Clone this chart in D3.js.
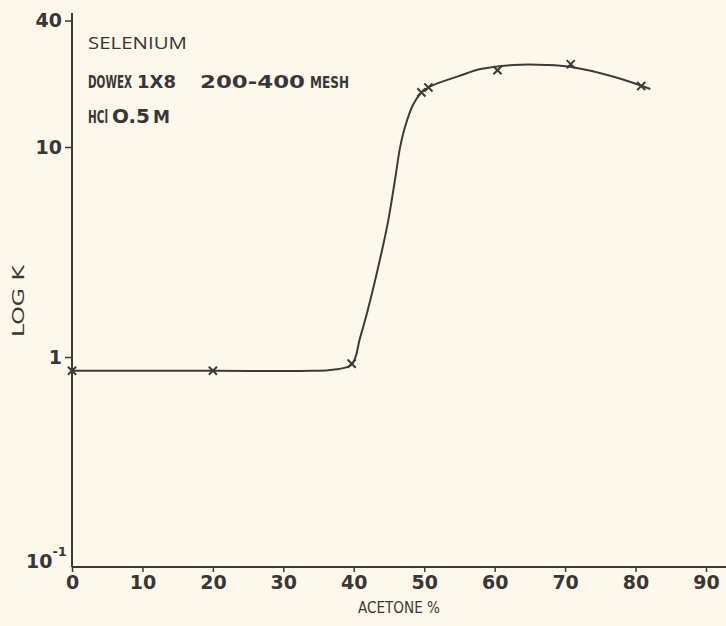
<!DOCTYPE html>
<html>
<head>
<meta charset="utf-8">
<script src="https://cdn.jsdelivr.net/npm/d3@7"></script>
<style>
  html, body { margin: 0; padding: 0; background: #fcf8eb; }
  svg { display: block; }
  .num { font-family: "DejaVu Sans", sans-serif; font-weight: 700; fill: #3b3636; }
  .cond { font-family: "DejaVu Sans Condensed", "DejaVu Sans", sans-serif; fill: #3b3636; }
  .plain { font-family: "Open Sans", "DejaVu Sans", sans-serif; fill: #3b3636; }
</style>
</head>
<body>
<svg id="chart" width="726" height="626"></svg>
<script>
// Measured distribution coefficients of selenium vs. acetone content
const acetone = [0, 20, 39.7, 49.6, 50.6, 60.4, 70.8, 80.8];
const logK = [0.86, 0.86, 0.93, 18.2, 19.2, 23.2, 24.8, 19.5];

// Hand-drawn smooth curve through the measurements
const curveAcetone = [0, 20, 34, 37, 39.7, 40.88, 41.88, 42.87, 43.86, 44.86, 45.85, 46.56, 47.27, 48.4, 49.54, 50.82, 55, 58, 62.7, 67.4, 70.7, 76.9, 82.1];
const curveK = [0.86, 0.86, 0.86, 0.87, 0.92, 1.23, 1.62, 2.2, 3.06, 4.4, 6.97, 9.9, 12.45, 15.85, 18.07, 19.4, 21.8, 23.5, 24.6, 24.6, 24.1, 21.6, 18.9];

// Axis ticks
const xTicks = [0, 10, 20, 30, 40, 50, 60, 70, 80, 90];
const yTicks = [40, 10, 1];

const svg = d3.select("#chart");
const ink = "#3f3a3a";

const x = d3.scaleLinear().domain([0, 90]).range([72, 706]);
const y = d3.scaleLog().domain([0.1, 10]).range([567, 147]);

// Axis lines
svg.append("line").attr("x1", x(0)).attr("x2", 726).attr("y1", y(0.1)).attr("y2", y(0.1))
  .attr("stroke", ink).attr("stroke-width", 2);
svg.append("line").attr("x1", x(0)).attr("x2", x(0)).attr("y1", 13).attr("y2", y(0.1))
  .attr("stroke", ink).attr("stroke-width", 2);

// X axis ticks and labels
const xAxis = d3.axisBottom(x).tickValues(xTicks).tickSize(5).tickPadding(3);
const gx = svg.append("g").attr("transform", `translate(0,${y(0.1)})`).call(xAxis);
gx.select(".domain").remove();
gx.selectAll(".tick line").attr("stroke", ink).attr("stroke-width", 1.5);
gx.selectAll(".tick text").attr("class", "num").attr("font-size", 19).attr("dy", "0.76em")
  .attr("fill", "#3b3636").attr("font-family", null);

// Y axis ticks and labels
const yAxis = d3.axisLeft(y).tickValues(yTicks).tickSize(7).tickPadding(3)
  .tickFormat(d3.format("d"));
const gy = svg.append("g").attr("transform", `translate(${x(0)},0)`).call(yAxis);
gy.select(".domain").remove();
gy.selectAll(".tick line").attr("stroke", ink).attr("stroke-width", 1.5);
gy.selectAll(".tick text").attr("class", "num").attr("font-size", 19)
  .attr("fill", "#3b3636").attr("font-family", null);

// Lower axis label 10^-1
const low = svg.append("text").attr("class", "num").attr("font-size", 19)
  .attr("x", 26).attr("y", y(0.1) + 1);
low.append("tspan").text("10");
low.append("tspan").attr("font-size", 13).attr("dy", -12).text("-1");

// Text squeezed or widened horizontally to a given width
function label(cls, size, weight, px, py, width, str, rotate) {
  const t = svg.append("text").attr("class", cls).attr("font-size", size)
    .attr("font-weight", weight).text(str);
  const w = t.node().getComputedTextLength();
  const sx = width / w;
  t.attr("transform", `translate(${px},${py})${rotate ? " rotate(-90)" : ""} scale(${sx},1)`);
  return t;
}

// Axis titles
label("cond", 15.5, 400, 358, 613, 82, "ACETONE %");
label("cond", 16.5, 400, 24, 337, 72, "LOG K", true);

// Annotation block
label("plain", 17, 500, 88, 49, 99, "SELENIUM");
label("cond", 18, 600, 88, 88, 44, "DOWEX");
label("num", 18.5, 700, 137, 88, 39, "1X8");
label("num", 18.5, 700, 200, 88, 105, "200-400");
label("cond", 16, 600, 310, 88, 39, "MESH");
label("cond", 18.5, 600, 88, 123, 20, "HCl");
label("num", 19.5, 700, 112, 123, 38, "O.5");
label("cond", 18.5, 600, 153, 123, 17, "M");

// Fitted curve
const line = d3.line()
  .x(d => x(d[0])).y(d => y(d[1]))
  .curve(d3.curveCatmullRom.alpha(0.5));
svg.append("path")
  .datum(curveAcetone.map((a, i) => [a, curveK[i]]))
  .attr("d", line).attr("fill", "none").attr("stroke", ink).attr("stroke-width", 2);

// Measured points
svg.selectAll(".pt").data(acetone.map((a, i) => [a, logK[i]])).join("path")
  .attr("class", "pt")
  .attr("transform", d => `translate(${x(d[0])},${y(d[1])})`)
  .attr("d", d3.symbol(d3.symbolX, 45))
  .attr("fill", "none").attr("stroke", ink).attr("stroke-width", 2);
</script>
</body>
</html>
